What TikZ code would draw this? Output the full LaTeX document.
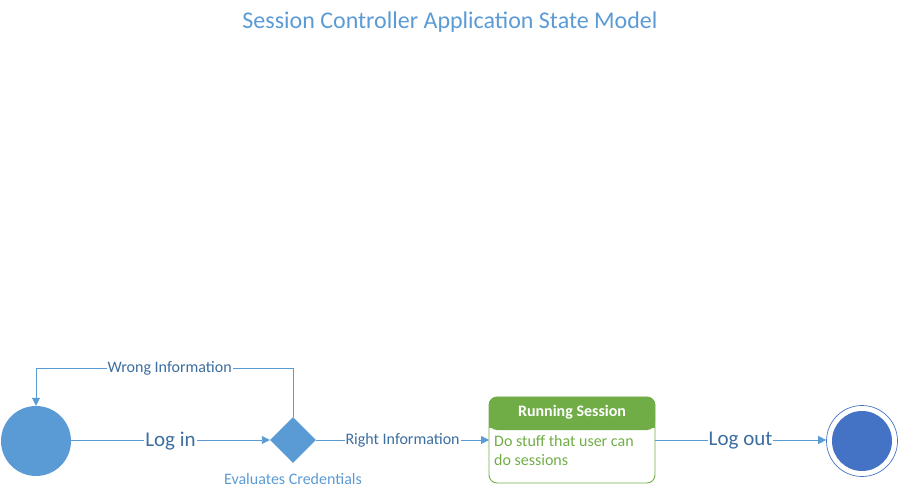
\documentclass[tikz,border=0pt]{standalone}
\usepackage{fontspec}
\setmainfont{Carlito}
\usetikzlibrary{arrows.meta,shapes.geometric}
\definecolor{lineblue}{HTML}{5B9BD5}
\definecolor{labelblue}{HTML}{3C6E9F}
\definecolor{finalblue}{HTML}{4472C4}
\definecolor{sgreen}{HTML}{70AD47}
\tikzset{
  conn/.style={draw=lineblue, line width=0.9pt, -{Triangle[length=8pt,width=8pt]}},
  lbl/.style={fill=white, text=labelblue, inner sep=1pt, font=\fontsize{16}{19}\selectfont},
  biglbl/.style={fill=white, text=labelblue, inner sep=1pt, font=\fontsize{21}{24}\selectfont},
}
\begin{document}
\begin{tikzpicture}[x=1pt,y=-1pt]
\useasboundingbox (0,0) rectangle (898,497);
\node[text=lineblue, font=\fontsize{24}{28}\selectfont] (title) at (450,22) {Session Controller Application State Model};
% initial state
\node[circle, fill=lineblue, minimum size=70pt, inner sep=0pt] (init) at (36,441) {};
% decision
\node[diamond, fill=lineblue, minimum width=46pt, minimum height=46pt, inner sep=0pt] (dec) at (293,440) {};
\node[text=lineblue, font=\fontsize{16}{19}\selectfont] (evl) at (293,479) {Evaluates Credentials};
% running session box
\coordinate (boxtl) at (489,397);
\coordinate (boxbr) at (655,483);
\fill[sgreen, rounded corners=8pt] (489,397) rectangle (655,430);
\fill[sgreen] (489,420) rectangle (655,428);
\draw[sgreen, line width=0.9pt, rounded corners=8pt] (boxtl) rectangle (boxbr);
\node[text=white, font=\bfseries\fontsize{16}{19}\selectfont] (rstitle) at (572,412) {Running Session};
\node[anchor=north west, text=sgreen, align=left, inner sep=0pt, font=\fontsize{16}{19.5}\selectfont] (rsbody) at (494,435) {Do stuff that user can\\do sessions};
\coordinate (boxleft) at (489,440);
\coordinate (boxright) at (655,440);
% final state
\node[circle, draw=finalblue, line width=0.7pt, minimum size=71pt, inner sep=0pt] (final) at (862,441) {};
\node[circle, fill=finalblue, minimum size=60pt, inner sep=0pt] (finalin) at (862,441) {};
% connectors
\draw[conn] (init.east |- dec) -- node[biglbl, yshift=-1pt] {Log in} (dec.west);
\draw[conn] (dec.north) -- (293,368) -- node[lbl, pos=0.48] {Wrong Information} (36,368) -- (init.north);
\draw[conn] (dec.east) -- node[lbl, pos=0.5] {Right Information} (boxleft);
\draw[conn] (boxright) -- node[biglbl, yshift=-1pt] {Log out} (final.west |- boxright);
\end{tikzpicture}
\end{document}
